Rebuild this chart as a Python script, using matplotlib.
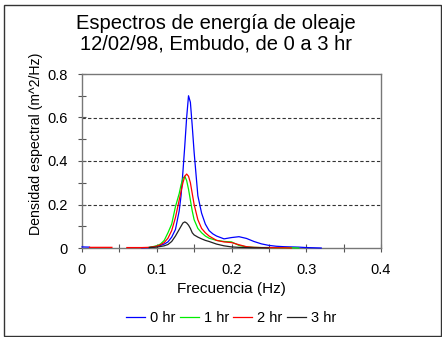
import numpy as np
import matplotlib
matplotlib.use('Agg')
import matplotlib.pyplot as plt
from matplotlib.ticker import MultipleLocator, FuncFormatter
from matplotlib.patches import Rectangle

nan = np.nan

# frecuencias (Hz)
freq = [0.00, 0.01, 0.02, 0.03, 0.04, 0.05, 0.06, 0.07, 0.08, 0.09,
        0.10, 0.105, 0.11, 0.115, 0.12, 0.125, 0.13, 0.1325, 0.135, 0.1375,
        0.14, 0.1425, 0.145, 0.1475, 0.15, 0.155, 0.16, 0.165, 0.17, 0.175,
        0.18, 0.19, 0.20, 0.21, 0.22, 0.23, 0.24, 0.25, 0.26, 0.27,
        0.28, 0.29, 0.30, 0.31, 0.32]

# densidad espectral (m^2/Hz)
hr0 = [0.005, 0.004, nan, nan, nan, nan, nan, nan, 0.001, 0.002,
       0.008, 0.012, 0.018, 0.028, 0.05, 0.085, 0.17, 0.24, 0.35, 0.47,
       0.60, 0.70, 0.67, 0.56, 0.44, 0.24, 0.16, 0.11, 0.08, 0.065,
       0.055, 0.042, 0.048, 0.052, 0.044, 0.03, 0.019, 0.012, 0.008, 0.006,
       0.005, 0.004, 0.002, 0.001, 0.0]
hr1 = [nan, nan, nan, nan, nan, nan, nan, nan, nan, 0.003,
       0.01, 0.018, 0.035, 0.07, 0.11, 0.19, 0.25, 0.29, 0.32, 0.33,
       0.31, 0.27, 0.22, 0.17, 0.13, 0.09, 0.07, 0.055, 0.045, 0.04,
       0.035, 0.03, 0.028, 0.012, 0.005, 0.003, 0.002, 0.002, 0.001, 0.001,
       0.001, 0.0, nan, nan, nan]
hr2 = [nan, 0.003, 0.003, 0.003, 0.003, nan, 0.002, 0.002, 0.002, 0.003,
       0.008, 0.015, 0.025, 0.045, 0.08, 0.14, 0.22, 0.26, 0.30, 0.33,
       0.34, 0.33, 0.30, 0.25, 0.20, 0.13, 0.09, 0.07, 0.055, 0.045,
       0.035, 0.028, 0.025, 0.015, 0.006, 0.003, 0.002, 0.002, 0.001, 0.001,
       0.0, nan, nan, nan, nan]
hr3 = [nan, nan, nan, nan, nan, nan, nan, nan, nan, 0.002,
       0.004, 0.007, 0.01, 0.016, 0.03, 0.055, 0.085, 0.10, 0.115, 0.12,
       0.115, 0.105, 0.09, 0.07, 0.06, 0.05, 0.042, 0.035, 0.03, 0.024,
       0.018, 0.01, 0.005, 0.003, 0.002, 0.001, 0.001, 0.0, nan, nan,
       nan, nan, nan, nan, nan]

series = [hr0, hr1, hr2, hr3]
labels = ['0 hr', '1 hr', '2 hr', '3 hr']
colors = ['#0000ff', '#00ee00', '#ff0000', '#222222']

plt.rcParams['font.family'] = ['Liberation Sans', 'DejaVu Sans']

fig = plt.figure(figsize=(4.42, 3.37), dpi=100)
ax = fig.add_axes([82 / 442, 89 / 337, 299 / 442, 174 / 337])

for y, lab, c in zip(series, labels, colors):
    ax.plot(freq, y, color=c, lw=0.9, label=lab, zorder=3, clip_on=False)

ax.set_xlim(0, 0.4)
ax.set_ylim(0, 0.8)
ax.xaxis.set_major_locator(MultipleLocator(0.1))
ax.xaxis.set_minor_locator(MultipleLocator(0.05))
ax.yaxis.set_major_locator(MultipleLocator(0.2))
ax.yaxis.set_minor_locator(MultipleLocator(0.1))
fmt = FuncFormatter(lambda v, p: '%g' % round(v, 2))
ax.xaxis.set_major_formatter(fmt)
ax.yaxis.set_major_formatter(fmt)
ax.tick_params(which='both', direction='inout', length=6, width=0.8,
               color='#555555', labelsize=10.5)
ax.tick_params(axis='y', pad=7)
ax.tick_params(axis='x', pad=8)
for s in ax.spines.values():
    s.set_color('#777777')
    s.set_linewidth(1)

for g in [0.2, 0.4, 0.6]:
    ax.axhline(g, color='#333333', lw=0.8, ls=(0, (3, 2)), zorder=1)

fig.text(216 / 442, 1 - 14 / 337, 'Espectros de energía de oleaje\n12/02/98, Embudo, de 0 a 3 hr',
         ha='center', va='top', fontsize=14.5, linespacing=1.12)
fig.text(231 / 442, 1 - 289 / 337, 'Frecuencia (Hz)', ha='center', va='center', fontsize=11)
fig.text(36 / 442, 1 - 144 / 337, 'Densidad espectral (m^2/Hz)', ha='center', va='center',
         rotation=90, fontsize=10.2)

leg = fig.legend(loc='center', bbox_to_anchor=(231 / 442, 1 - 318 / 337), ncol=4,
                 frameon=False, fontsize=10.5, handlelength=1.3, handletextpad=0.35,
                 columnspacing=0.3, borderpad=0)

fig.patches.append(Rectangle((4 / 442, 1 / 337), 437 / 442, 331 / 337,
                             transform=fig.transFigure, fill=False,
                             edgecolor='#333333', lw=1))

fig.savefig('out.png', dpi=100)
